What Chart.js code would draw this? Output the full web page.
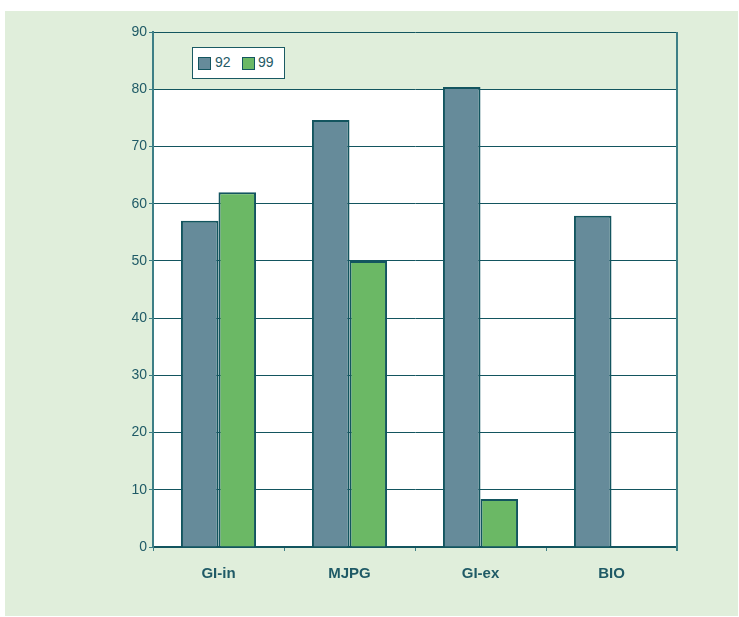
<!DOCTYPE html>
<html>
<head>
<meta charset="utf-8">
<script src="https://cdn.jsdelivr.net/npm/chart.js@4"></script>
<style>
  html, body { margin: 0; padding: 0; background: #ffffff; }
  #wrap { position: relative; width: 739px; height: 617px; }
  #panel { position: absolute; left: 5px; top: 11px; width: 733px; height: 605px; background: #e0eedb; }
  canvas { position: absolute; left: 0; top: 0; }
  #legend { position: absolute; left: 192px; top: 47px; width: 91px; height: 30px; background: #ffffff;
    border: 1px solid #1a5a63; font-family: "Liberation Sans", Arial, sans-serif; font-size: 14px; color: #1f5a66; }
  .sw { position: absolute; top: 9px; width: 11px; height: 11px; border: 1px solid #13555f; box-sizing: content-box; }
  .lt { position: absolute; top: 6px; line-height: 16px; }
</style>
</head>
<body>
<div id="wrap">
  <div id="panel"></div>
  <canvas id="c" width="739" height="617"></canvas>
  <div id="legend"></div>
</div>
<script>
const categories = ["GI-in", "MJPG", "GI-ex", "BIO"];
const seriesNames = ["92", "99"];
const values92 = [57, 74.6, 80.4, 57.9];
const values99 = [62, 50, 8.4, null];
const yTicks = [0, 10, 20, 30, 40, 50, 60, 70, 80, 90];

const colors = ["#668b9a", "#6bb865"];
const border = "#13555f";
const textColor = "#1f5a66";

// HTML legend
const legend = document.getElementById('legend');
const legendPos = [[5, 22], [49, 65]];
seriesNames.forEach((n, i) => {
  const sw = document.createElement('div');
  sw.className = 'sw';
  sw.style.left = legendPos[i][0] + 'px';
  sw.style.background = colors[i];
  legend.appendChild(sw);
  const t = document.createElement('div');
  t.className = 'lt';
  t.style.left = legendPos[i][1] + 'px';
  t.textContent = n;
  legend.appendChild(t);
});

const whitePlot = {
  id: 'whitePlot',
  beforeDraw(chart) {
    const { ctx, chartArea, scales } = chart;
    const y80 = scales.y.getPixelForValue(80);
    ctx.save();
    ctx.fillStyle = '#ffffff';
    ctx.fillRect(chartArea.left, y80, chartArea.right - chartArea.left, chartArea.bottom - y80);
    ctx.restore();
  },
  afterDraw(chart) {
    const { ctx, chartArea } = chart;
    ctx.save();
    ctx.strokeStyle = '#3d7f86';
    ctx.lineWidth = 2;
    ctx.beginPath();
    ctx.moveTo(chartArea.right, chartArea.top);
    ctx.lineTo(chartArea.right, chartArea.bottom + 4);
    ctx.stroke();
    ctx.restore();
  }
};

new Chart(document.getElementById('c'), {
  type: 'bar',
  data: {
    labels: categories,
    datasets: [
      { label: seriesNames[0], data: values92, backgroundColor: colors[0], borderColor: border, borderWidth: 2 },
      { label: seriesNames[1], data: values99, backgroundColor: colors[1], borderColor: border, borderWidth: 2 }
    ]
  },
  options: {
    responsive: false,
    animation: false,
    devicePixelRatio: 1,
    layout: { padding: { left: 0, right: 62, top: 32, bottom: 0 } },
    datasets: { bar: { categoryPercentage: 0.573, barPercentage: 1.0 } },
    plugins: { legend: { display: false }, tooltip: { enabled: false } },
    scales: {
      x: {
        afterFit(s) { s.height = 70; },
        grid: { offset: true, drawOnChartArea: false, drawTicks: true, tickLength: 4, color: '#3d7f86', lineWidth: 1 },
        border: { display: true, color: '#13555f', width: 2 },
        ticks: { color: textColor, padding: 14, font: { family: '"Liberation Sans", Arial, sans-serif', size: 15, weight: 'bold' } }
      },
      y: {
        min: 0, max: 90,
        afterFit(s) { s.width = 153; },
        afterBuildTicks(s) { s.ticks = yTicks.map(v => ({ value: v })); },
        grid: { color: '#13555f', lineWidth: 1, tickLength: 4, tickColor: '#3d7f86' },
        border: { display: true, color: '#3d7f86', width: 2 },
        ticks: { color: textColor, padding: 2, font: { family: '"Liberation Sans", Arial, sans-serif', size: 14 } }
      }
    }
  },
  plugins: [whitePlot]
});
</script>
</body>
</html>
